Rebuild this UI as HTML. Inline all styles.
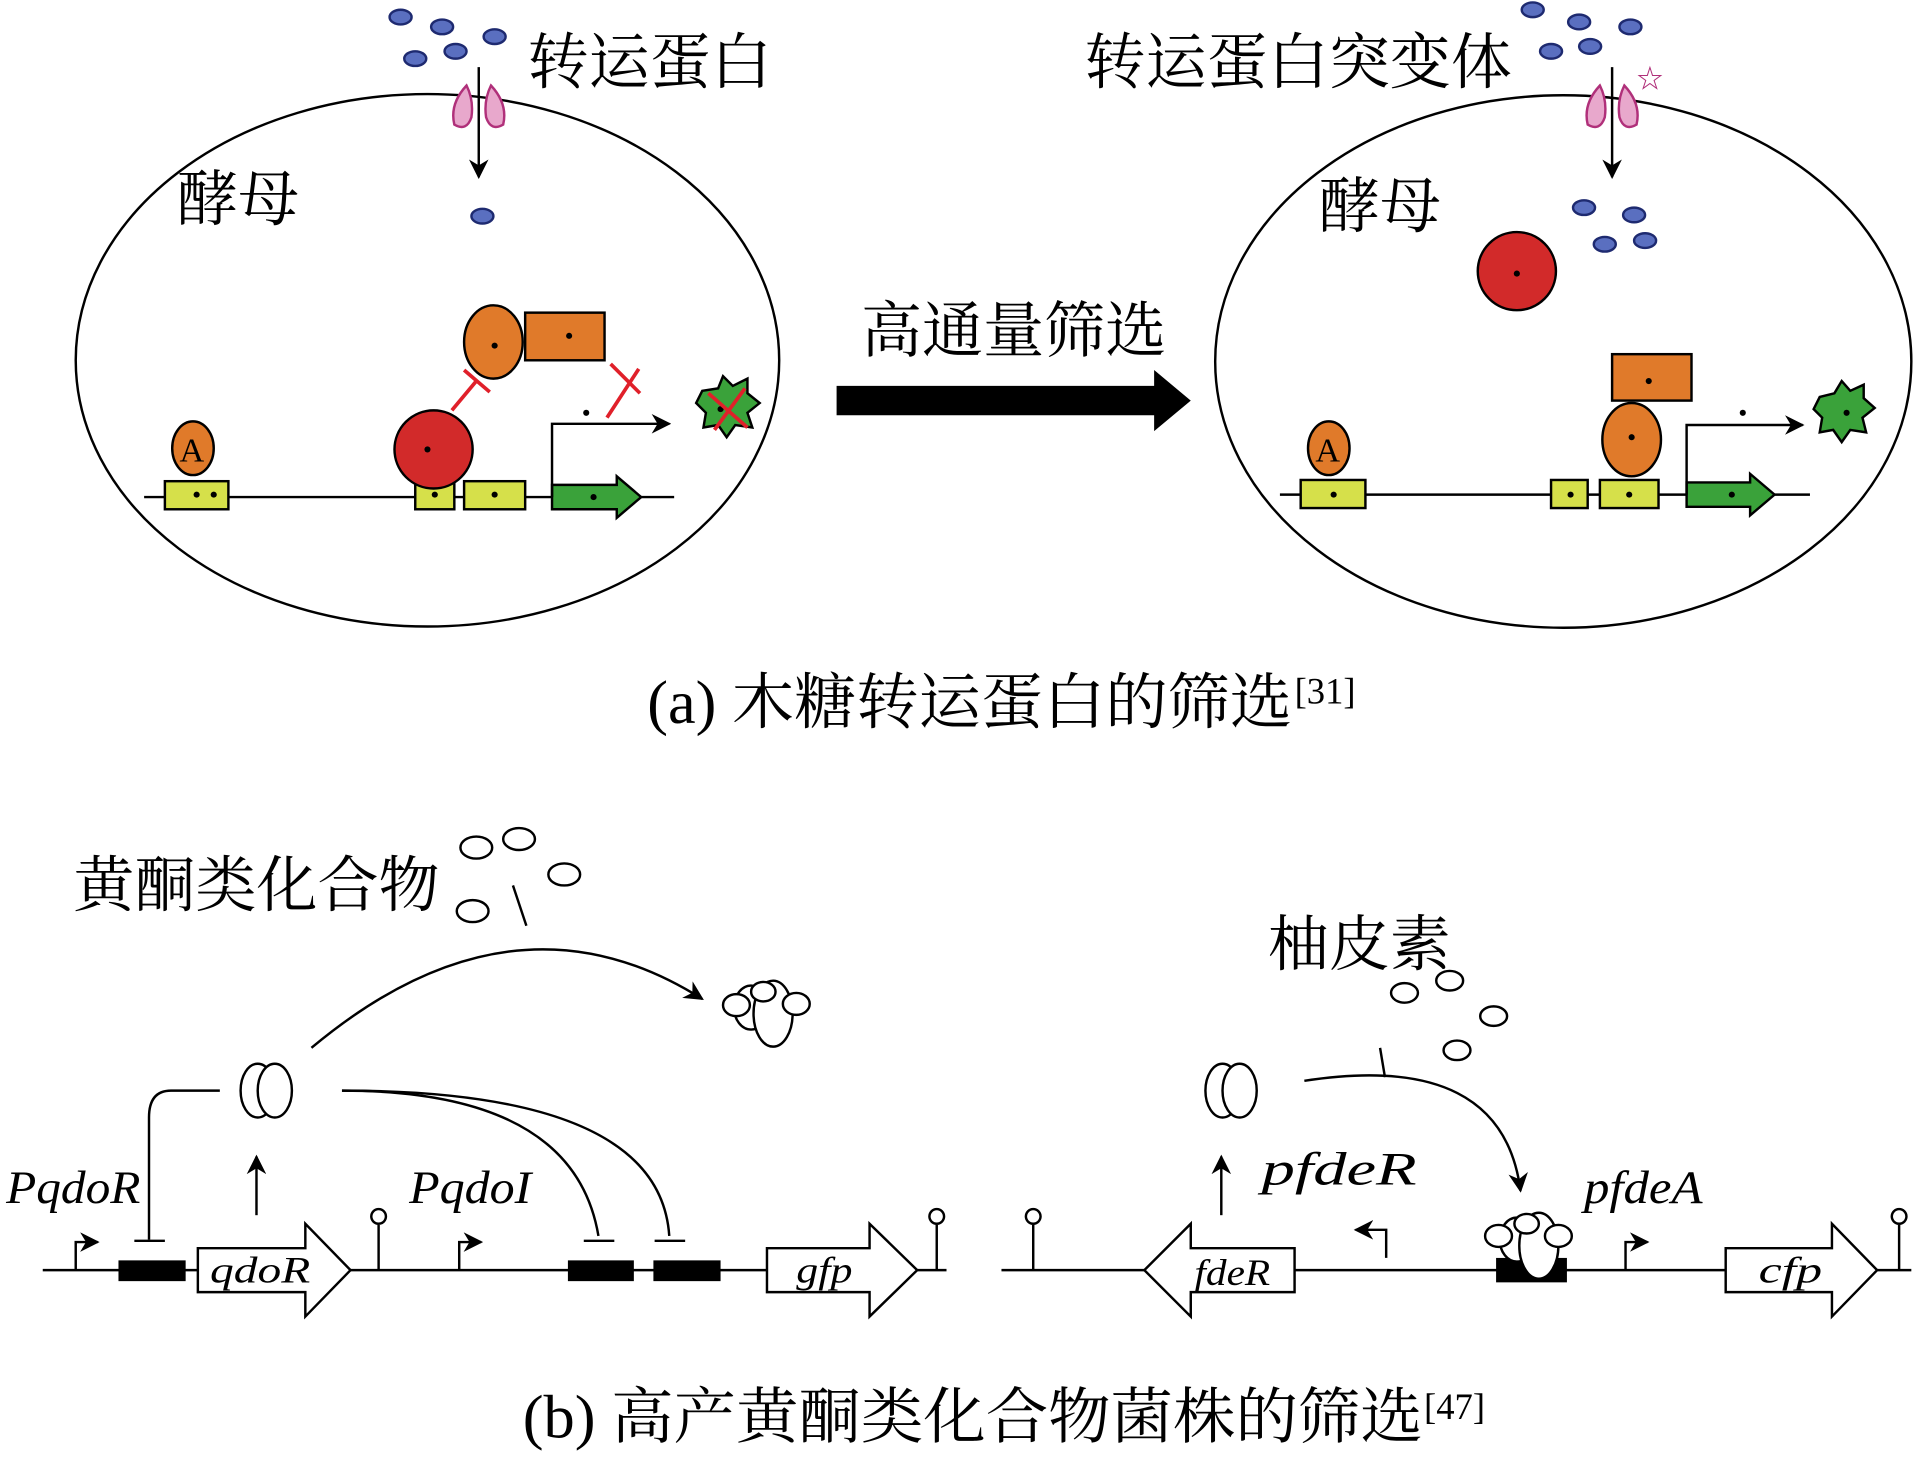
<!DOCTYPE html>
<html><head><meta charset="utf-8"><style>
html,body{margin:0;padding:0;background:#fff}
svg{display:block}
text{font-family:"Liberation Serif","Noto Serif CJK SC",serif;fill:#000}
.it{font-style:italic}
</style></head><body>
<svg width="1915" height="1457" viewBox="0 0 1568 1193" xmlns="http://www.w3.org/2000/svg">
<defs>
<marker id="ah" viewBox="0 0 10 10" refX="9" refY="5" markerWidth="8" markerHeight="8" orient="auto"><path d="M0,0 L10,5 L0,10 L3,5 z" fill="#000"/></marker>
</defs>
<g fill="none" stroke="#000" stroke-width="2">
<ellipse cx="350" cy="295" rx="288" ry="218"/>
<ellipse cx="1280" cy="296" rx="285" ry="218"/>
</g>
<g fill="#5a6fc0" stroke="#1e2a70" stroke-width="2">
<ellipse cx="328" cy="14" rx="9" ry="6"/><ellipse cx="362" cy="22" rx="9" ry="6"/><ellipse cx="405" cy="30" rx="9" ry="6"/><ellipse cx="340" cy="48" rx="9" ry="6"/><ellipse cx="373" cy="42" rx="9" ry="6"/><ellipse cx="395" cy="177" rx="9" ry="6"/>
<ellipse cx="1255" cy="8" rx="9" ry="6"/><ellipse cx="1293" cy="18" rx="9" ry="6"/><ellipse cx="1335" cy="22" rx="9" ry="6"/><ellipse cx="1270" cy="42" rx="9" ry="6"/><ellipse cx="1302" cy="38" rx="9" ry="6"/>
<ellipse cx="1297" cy="170" rx="9" ry="6"/><ellipse cx="1338" cy="176" rx="9" ry="6"/><ellipse cx="1314" cy="200" rx="9" ry="6"/><ellipse cx="1347" cy="197" rx="9" ry="6"/>
</g>
<g fill="#e8a8cc" stroke="#b0307a" stroke-width="2">
<path d="M382,70 Q368,85 372,102 Q382,108 386,96 Q388,82 382,70z"/>
<path d="M402,70 Q416,85 412,102 Q402,108 398,96 Q396,82 402,70z"/>
<path d="M1310,70 Q1296,85 1300,102 Q1310,108 1314,96 Q1316,82 1310,70z"/>
<path d="M1330,70 Q1344,85 1340,102 Q1330,108 1326,96 Q1324,82 1330,70z"/>
</g>
<text x="1340" y="72" font-size="22" style="fill:#b0307a">☆</text>
<g stroke="#000" stroke-width="2">
<line x1="392" y1="55" x2="392" y2="145" marker-end="url(#ah)"/>
<line x1="1320" y1="55" x2="1320" y2="145" marker-end="url(#ah)"/>
</g>
<text x="432" y="68" font-size="50">转运蛋白</text>
<text x="888" y="68" font-size="50">转运蛋白突变体</text>
<text x="145" y="180" font-size="50">酵母</text>
<text x="1080" y="186" font-size="50">酵母</text>
<g stroke="#000" stroke-width="2">
<line x1="118" y1="407" x2="552" y2="407"/>
<line x1="1048" y1="405" x2="1482" y2="405"/>
</g>
<g fill="#d6e04a" stroke="#000" stroke-width="2">
<rect x="135" y="394" width="52" height="23"/><rect x="340" y="394" width="32" height="23"/><rect x="380" y="394" width="50" height="23"/>
<rect x="1065" y="393" width="53" height="23"/><rect x="1270" y="393" width="30" height="23"/><rect x="1310" y="393" width="48" height="23"/>
</g>
<g fill="#e07a2a" stroke="#000" stroke-width="2">
<ellipse cx="158" cy="367" rx="17" ry="22"/><ellipse cx="404" cy="280" rx="24" ry="30"/><rect x="430" y="256" width="65" height="39"/>
<ellipse cx="1088" cy="367" rx="17" ry="22"/><ellipse cx="1336" cy="360" rx="24" ry="30"/><rect x="1320" y="290" width="65" height="38"/>
</g>
<g fill="#d22a2a" stroke="#000" stroke-width="2">
<circle cx="355" cy="368" r="32"/><circle cx="1242" cy="222" r="32"/>
</g>
<text x="147" y="378" font-size="28">A</text>
<text x="1077" y="378" font-size="28">A</text>
<g fill="#3aa23a" stroke="#000" stroke-width="2">
<path d="M452,397 H505 V390 L525,407 L505,424 V417 H452z"/>
<path d="M1381,395 H1433 V388 L1453,405 L1433,422 V415 H1381z"/>
<path d="M575,320 L588,318 L592,308 L600,316 L612,310 L612,322 L622,330 L612,338 L616,350 L602,348 L595,358 L588,348 L576,350 L578,338 L570,330z"/>
<path d="M1490,325 L1502,322 L1508,312 L1515,320 L1526,315 L1526,326 L1535,334 L1525,342 L1528,354 L1515,352 L1508,362 L1501,352 L1490,354 L1492,342 L1485,335z"/>
</g>
<g stroke="#000" stroke-width="2" fill="none">
<path d="M452,407 V347 H548" marker-end="url(#ah)"/>
<path d="M1381,405 V348 H1476" marker-end="url(#ah)"/>
</g>
<g fill="#000">
<circle cx="161" cy="405" r="2.5"/><circle cx="175" cy="405" r="2.5"/><circle cx="356" cy="405" r="2.5"/><circle cx="405" cy="405" r="2.5"/><circle cx="486" cy="407" r="2.5"/>
<circle cx="350" cy="368" r="2.5"/><circle cx="405" cy="283" r="2.5"/><circle cx="466" cy="275" r="2.5"/><circle cx="480" cy="338" r="2.5"/><circle cx="590" cy="335" r="2.5"/>
<circle cx="1092" cy="405" r="2.5"/><circle cx="1286" cy="405" r="2.5"/><circle cx="1334" cy="405" r="2.5"/><circle cx="1418" cy="405" r="2.5"/>
<circle cx="1242" cy="224" r="2.5"/><circle cx="1336" cy="358" r="2.5"/><circle cx="1350" cy="312" r="2.5"/><circle cx="1427" cy="338" r="2.5"/><circle cx="1512" cy="338" r="2.5"/>
</g>
<g stroke="#e0202a" stroke-width="3" fill="none">
<line x1="370" y1="336" x2="390" y2="312"/><line x1="380" y1="303" x2="401" y2="321"/>
<line x1="500" y1="298" x2="524" y2="322"/><line x1="523" y1="302" x2="497" y2="342"/>
<line x1="580" y1="322" x2="612" y2="350"/><line x1="610" y1="318" x2="585" y2="352"/>
</g>
<path d="M685,316 H945 V303 L975,328 L945,353 V340 H685z" fill="#000"/>
<text x="705" y="288" font-size="50">高通量筛选</text>
<text x="530" y="592" font-size="50" textLength="528" lengthAdjust="spacingAndGlyphs">(a) 木糖转运蛋白的筛选</text>
<text x="1060" y="576" font-size="30">[31]</text>
<text x="60" y="742" font-size="50">黄酮类化合物</text>
<text x="1038" y="790" font-size="50">柚皮素</text>
<g fill="none" stroke="#000" stroke-width="2">
<ellipse cx="390" cy="694" rx="13" ry="9"/><ellipse cx="425" cy="687" rx="13" ry="9"/><ellipse cx="462" cy="716" rx="13" ry="9"/><ellipse cx="387" cy="746" rx="13" ry="9"/>
<ellipse cx="1150" cy="813" rx="11" ry="8"/><ellipse cx="1187" cy="803" rx="11" ry="8"/><ellipse cx="1223" cy="832" rx="11" ry="8"/><ellipse cx="1193" cy="860" rx="11" ry="8"/>
<path d="M255,858 Q420,720 575,818" marker-end="url(#ah)"/>
<line x1="420" y1="725" x2="431" y2="758"/>
<path d="M1068,885 Q1230,860 1245,975" marker-end="url(#ah)"/>
<line x1="1130" y1="858" x2="1134" y2="882"/>
<path d="M180,893 H140 Q122,893 122,915 V1015"/><line x1="110" y1="1016" x2="135" y2="1016"/>
<path d="M280,893 Q470,893 490,1012"/><line x1="478" y1="1016" x2="503" y2="1016"/>
<path d="M280,893 Q540,893 548,1012"/><line x1="536" y1="1016" x2="561" y2="1016"/>
<line x1="210" y1="995" x2="210" y2="947" marker-end="url(#ah)"/>
<line x1="1000" y1="995" x2="1000" y2="947" marker-end="url(#ah)"/>
<line x1="35" y1="1040" x2="775" y2="1040"/>
<line x1="820" y1="1040" x2="1565" y2="1040"/>
<line x1="310" y1="1040" x2="310" y2="1003"/><circle cx="310" cy="996" r="6"/>
<line x1="767" y1="1040" x2="767" y2="1003"/><circle cx="767" cy="996" r="6"/>
<line x1="846" y1="1040" x2="846" y2="1003"/><circle cx="846" cy="996" r="6"/>
<line x1="1555" y1="1040" x2="1555" y2="1003"/><circle cx="1555" cy="996" r="6"/>
<path d="M62,1040 V1017 H80" marker-end="url(#ah)"/>
<path d="M376,1040 V1017 H394" marker-end="url(#ah)"/>
<path d="M1135,1030 V1007 H1110" marker-end="url(#ah)"/>
<path d="M1331,1040 V1017 H1349" marker-end="url(#ah)"/>
</g>
<g fill="#fff" stroke="#000" stroke-width="2">
<ellipse cx="211" cy="893" rx="14" ry="22"/><ellipse cx="225" cy="893" rx="14" ry="22"/>
<ellipse cx="1001" cy="893" rx="14" ry="22"/><ellipse cx="1015" cy="893" rx="14" ry="22"/>
<path d="M162,1022 H250 V1002 L287,1040 L250,1078 V1058 H162z"/>
<path d="M628,1022 H712 V1002 L751,1040 L712,1078 V1058 H628z"/>
<path d="M1060,1022 H975 V1002 L937,1040 L975,1078 V1058 H1060z"/>
<path d="M1413,1022 H1500 V1002 L1537,1040 L1500,1078 V1058 H1413z"/>
</g>
<g fill="#000">
<rect x="97" y="1032" width="55" height="17"/><rect x="465" y="1032" width="54" height="17"/><rect x="535" y="1032" width="55" height="17"/>
<rect x="1225" y="1030" width="58" height="20"/>
</g>
<g fill="#fff" stroke="#000" stroke-width="2">
<ellipse cx="615" cy="825" rx="14" ry="18"/><ellipse cx="633" cy="830" rx="16" ry="27"/><ellipse cx="603" cy="823" rx="11" ry="9"/><ellipse cx="652" cy="822" rx="11" ry="9"/><ellipse cx="625" cy="812" rx="10" ry="8"/>
<ellipse cx="1242" cy="1015" rx="14" ry="18"/><ellipse cx="1260" cy="1020" rx="16" ry="27"/><ellipse cx="1227" cy="1012" rx="11" ry="9"/><ellipse cx="1276" cy="1012" rx="11" ry="9"/><ellipse cx="1250" cy="1002" rx="10" ry="8"/>
</g>
<g font-size="38">
<text x="5" y="985" class="it" textLength="110" lengthAdjust="spacingAndGlyphs">PqdoR</text>
<text x="335" y="985" class="it" textLength="100" lengthAdjust="spacingAndGlyphs">PqdoI</text>
<text x="1033" y="970" class="it" textLength="127" lengthAdjust="spacingAndGlyphs">pfdeR</text>
<text x="1297" y="985" class="it" textLength="97" lengthAdjust="spacingAndGlyphs">pfdeA</text>
<text x="172" y="1050" font-size="30" class="it" textLength="82" lengthAdjust="spacingAndGlyphs">qdoR</text>
<text x="652" y="1050" font-size="30" class="it" textLength="46" lengthAdjust="spacingAndGlyphs">gfp</text>
<text x="978" y="1052" font-size="30" class="it" textLength="62" lengthAdjust="spacingAndGlyphs">fdeR</text>
<text x="1440" y="1050" font-size="30" class="it" textLength="52" lengthAdjust="spacingAndGlyphs">cfp</text>
</g>
<text x="428" y="1177" font-size="50" textLength="737" lengthAdjust="spacingAndGlyphs">(b) 高产黄酮类化合物菌株的筛选</text>
<text x="1166" y="1162" font-size="30">[47]</text>
</svg>
</body></html>
